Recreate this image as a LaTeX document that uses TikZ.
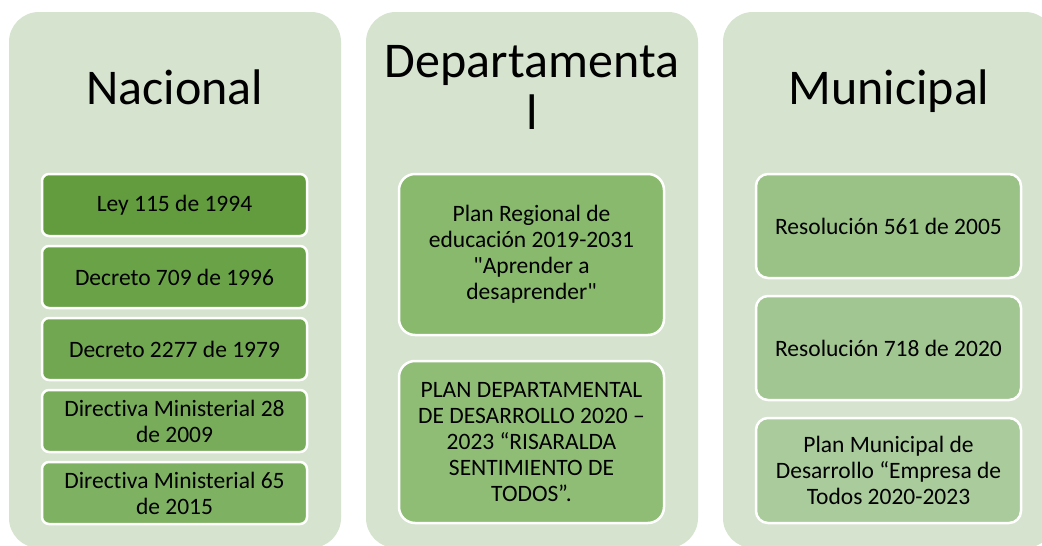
\documentclass[tikz,border=0pt]{standalone}
\usepackage{fontspec}
\setmainfont{Carlito}[Ligatures={TeXOff,NoCommon}]
\definecolor{fondo}{HTML}{D6E3CF}
\definecolor{nacA}{HTML}{629C3E}
\definecolor{nacB}{HTML}{6AA248}
\definecolor{nacC}{HTML}{71A751}
\definecolor{nacD}{HTML}{78AC5A}
\definecolor{nacE}{HTML}{7FB163}
\definecolor{depA}{HTML}{89B96D}
\definecolor{depB}{HTML}{90BD76}
\definecolor{munA}{HTML}{9AC287}
\definecolor{munB}{HTML}{A2C692}
\definecolor{munC}{HTML}{AACB9C}
\tikzset{
  panel/.style={fill=fondo, rounded corners=30pt, inner sep=0pt, outer sep=0pt,
    minimum width=332pt, minimum height=536pt},
  caja/.style={draw=white, line width=2.5pt, rounded corners=#1, inner sep=0pt,
    outer sep=0pt, minimum width=265pt, align=center,
    font=\fontsize{23.5}{26}\selectfont},
  caja/.default=7pt,
  titulo/.style={anchor=base, align=center, inner sep=0pt,
    font=\fontsize{50}{52}\selectfont}
}
\begin{document}
\begin{tikzpicture}[x=1pt, y=-1pt]
  % Rahmen
  \fill [white] (0,0) rectangle (1042,546);
  \clip (0,0) rectangle (1042,546);
  % Paneles
  \node [panel] (nac) at (175, 280) {};
  \node [panel] (dep) at (532, 280) {};
  \node [panel] (mun) at (889, 280) {};
  % Titulos
  \node [titulo] (tnac) at (175, 104) {Nacional};
  \node [titulo] (tdep) at (532, 129) {Departamenta\\l};
  \node [titulo] (tmun) at (889, 104) {Municipal};
  % Nacional
  \node [caja, fill=nacA, minimum height=62pt] (n1) at (174.5, 205) {Ley 115 de 1994};
  \node [caja, fill=nacB, minimum height=62pt] (n2) at (174.5, 277) {Decreto 709 de 1996};
  \node [caja, fill=nacC, minimum height=62pt] (n3) at (174.5, 349) {Decreto 2277 de 1979};
  \node [caja, fill=nacD, minimum height=62pt] (n4) at (174.5, 421) {Directiva Ministerial 28\\de 2009};
  \node [caja, fill=nacE, minimum height=62pt] (n5) at (174.5, 493) {Directiva Ministerial 65\\de 2015};
  % Departamental
  \node [caja=16pt, fill=depA, minimum height=161pt] (d1) at (531.5, 254.5)
    {Plan Regional de\\educación 2019-2031\\"Aprender a\\desaprender"};
  \node [caja=16pt, fill=depB, minimum height=162pt] (d2) at (531.5, 442)
    {PLAN DEPARTAMENTAL\\DE DESARROLLO 2020 –\\2023 “RISARALDA\\SENTIMIENTO DE\\TODOS”.};
  % Municipal
  \node [caja=12pt, fill=munA, minimum height=104pt] (m1) at (888.5, 226) {Resolución 561 de 2005};
  \node [caja=12pt, fill=munB, minimum height=104pt] (m2) at (888.5, 348) {Resolución 718 de 2020};
  \node [caja=12pt, fill=munC, minimum height=105pt] (m3) at (888.5, 470.5)
    {Plan Municipal de\\Desarrollo “Empresa de\\Todos 2020-2023};
\end{tikzpicture}
\end{document}
